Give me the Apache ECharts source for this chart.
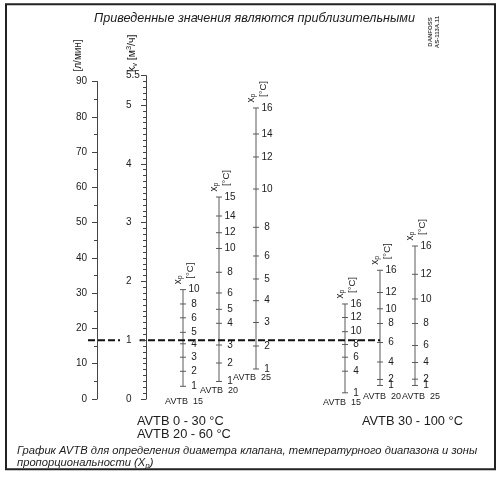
<!DOCTYPE html>
<html>
<head>
<meta charset="utf-8">
<script src="https://cdn.jsdelivr.net/npm/echarts@6/dist/echarts.min.js"></script>
<style>
  html, body { margin: 0; padding: 0; background: #fff; }
  #chart { width: 500px; height: 477px; }
</style>
</head>
<body>
<div id="chart"></div>
<script>
// Flow scales: l/min on the outer axis, kv [m3/h] on the inner one (1 m3/h = 16.67 l/min)
const flowTicks = [0, 10, 20, 30, 40, 50, 60, 70, 80, 90];
const kvLabels = [0, 1, 2, 3, 4, 5, 5.5];

// Xp scales: proportional band [°C] and the kv value at which each tick sits
// AVTB 0 - 30 °C / AVTB 20 - 60 °C
const xpLow15 = [1, 2, 3, 4, 5, 6, 8, 10];
const kvLow15 = [0.216, 0.471, 0.711, 0.939, 1.134, 1.381, 1.616, 1.86];
const xpLow20 = [1, 2, 3, 4, 5, 6, 8, 10, 12, 14, 15];
const kvLow20 = [0.298, 0.612, 0.918, 1.287, 1.525, 1.803, 2.155, 2.56, 2.828, 3.112, 3.435];
const xpLow25 = [1, 2, 3, 4, 5, 6, 8, 10, 12, 14, 16];
const kvLow25 = [0.51, 0.901, 1.301, 1.672, 2.041, 2.432, 2.92, 3.571, 4.116, 4.507, 4.949];
// AVTB 30 - 100 °C
const xpHigh15 = [1, 4, 6, 8, 10, 12, 16];
const kvHigh15 = [0.105, 0.473, 0.711, 0.927, 1.145, 1.386, 1.616];
const xpHigh20 = [1, 2, 4, 6, 8, 10, 12, 16];
const kvHigh20 = [0.23, 0.332, 0.629, 0.961, 1.284, 1.534, 1.811, 2.189];
const xpHigh25 = [1, 2, 4, 6, 8, 10, 12, 16];
const kvHigh25 = [0.23, 0.337, 0.621, 0.91, 1.284, 1.701, 2.121, 2.602];

// example reading (dashed line)
const readingKv = 1;

const FONT = '"Liberation Sans", Arial, Helvetica, sans-serif';
const INK = '#1c1c1c';
const AXIS = '#444';
const SCALE = '#5a5a5a';

// minor kv ticks every 0.1
const kvMinor = [];
for (let i = 1; i < 55; i++) { if (i % 10 !== 0) kvMinor.push(i / 10); }

// Xp scale layout: horizontal slot in the nomogram and the offset of the size label
const scales = [
  { name: 'AVTB  15', xp: xpLow15, kv: kvLow15, x: 95, dx: 1, dy: 15 },
  { name: 'AVTB  20', xp: xpLow20, kv: kvLow20, x: 131, dx: 0, dy: 9 },
  { name: 'AVTB  25', xp: xpLow25, kv: kvLow25, x: 168, dx: -4, dy: 9 },
  { name: 'AVTB  15', xp: xpHigh15, kv: kvHigh15, x: 257, dx: -3, dy: 10 },
  { name: 'AVTB  20', xp: xpHigh20, kv: kvHigh20, x: 292, dx: 2, dy: 11.5 },
  { name: 'AVTB  25', xp: xpHigh25, kv: kvHigh25, x: 327, dx: 6, dy: 11.5 }
];

function scaleSeries(s) {
  const last = s.kv.length - 1;
  return {
    type: 'custom',
    xAxisIndex: 1,
    yAxisIndex: 1,
    z: 3,
    silent: true,
    data: s.kv.map((k, i) => [s.x, k, s.xp[i]]),
    renderItem(params, api) {
      const i = params.dataIndex;
      const p = api.coord([api.value(0), api.value(1)]);
      const kids = [];
      if (i === 0) {
        const top = api.coord([s.x, s.kv[last]]);
        kids.push({ type: 'line', shape: { x1: p[0], y1: p[1], x2: top[0], y2: top[1] },
          style: { stroke: SCALE, lineWidth: 1 } });
        kids.push({ type: 'text', x: p[0] + s.dx, y: p[1] + s.dy,
          style: { text: s.name, fontSize: 9, fontFamily: FONT, fill: INK, align: 'center', verticalAlign: 'middle' } });
      }
      kids.push({ type: 'line', shape: { x1: p[0] - 3, y1: p[1], x2: p[0] + 3, y2: p[1] },
        style: { stroke: SCALE, lineWidth: 1 } });
      kids.push({ type: 'text', x: p[0] + 11, y: p[1],
        style: { text: String(api.value(2)), fontSize: 10, fontFamily: FONT, fill: INK, align: 'center', verticalAlign: 'middle' } });
      if (i === last) {
        kids.push({ type: 'text', x: p[0] - 5, y: p[1] - 5.5, rotation: Math.PI / 2,
          style: { text: '{a|x}{b|p}', align: 'left', verticalAlign: 'middle',
            rich: { a: { fontSize: 10, fontFamily: FONT, fill: INK },
                    b: { fontSize: 7, fontFamily: FONT, fill: INK, padding: [5, 0, 0, 0] } } } });
        kids.push({ type: 'text', x: p[0] + 7, y: p[1] - 11, rotation: Math.PI / 2,
          style: { text: '[°C]', fontSize: 9.5, fontFamily: FONT, fill: INK, align: 'left', verticalAlign: 'middle' } });
      }
      return { type: 'group', children: kids };
    }
  };
}

const chart = echarts.init(document.getElementById('chart'), null, { renderer: 'canvas' });

const plainText = { fontFamily: FONT, color: INK, fontWeight: 'normal' };

chart.setOption({
  animation: false,
  backgroundColor: '#fff',
  title: [
    { text: 'Приведенные значения являются приблизительными', left: 94, top: 10.5, padding: 0,
      textStyle: Object.assign({ fontSize: 12.6, fontStyle: 'italic', lineHeight: 15 }, plainText) },
    { text: 'AVTB 0 - 30 °C', left: 137, top: 414.5, padding: 0,
      textStyle: Object.assign({ fontSize: 12.8, lineHeight: 13 }, plainText) },
    { text: 'AVTB 20 - 60 °C', left: 137, top: 427.5, padding: 0,
      textStyle: Object.assign({ fontSize: 12.8, lineHeight: 13 }, plainText) },
    { text: 'AVTB 30 - 100 °C', left: 362, top: 414.5, padding: 0,
      textStyle: Object.assign({ fontSize: 12.8, lineHeight: 13 }, plainText) },
    { text: 'График AVTB для определения диаметра клапана, температурного диапазона и зоны\nпропорциональности (X{s|p})',
      left: 17, top: 445, padding: 0,
      textStyle: Object.assign({ fontSize: 11.2, fontStyle: 'italic', lineHeight: 12,
        rich: { s: { fontSize: 8, fontStyle: 'italic', fontFamily: FONT, color: INK, padding: [5, 0, 0, 0] } } }, plainText) }
  ],
  graphic: [
    { type: 'rect', shape: { x: 6, y: 4.3, width: 489, height: 465 },
      style: { fill: 'none', stroke: '#222', lineWidth: 2 }, silent: true },
    { type: 'text', x: 434, y: 32, rotation: Math.PI / 2,
      style: { text: 'DANFOSS\nAS-113A.11', fontSize: 6, fontWeight: 'bold', fontFamily: FONT, fill: '#444',
        align: 'center', verticalAlign: 'middle', lineHeight: 6.5 }, silent: true }
  ],
  grid: [
    { left: 97, top: 81.5, bottom: 78, width: 10, outerBoundsMode: 'none' },
    { left: 88, right: 20, top: 75.6, bottom: 78, outerBoundsMode: 'none' }
  ],
  xAxis: [
    { gridIndex: 0, type: 'value', show: false, min: 0, max: 1 },
    { gridIndex: 1, type: 'value', show: false, min: 0, max: 392 }
  ],
  yAxis: [
    {
      gridIndex: 0, type: 'value', position: 'left', min: 0, max: 90, interval: 10,
      axisLine: { show: true, onZero: false, lineStyle: { color: AXIS, width: 1 } },
      axisTick: { show: true, length: 5, customValues: flowTicks, lineStyle: { color: AXIS } },
      minorTick: { show: true, splitNumber: 2, length: 3, lineStyle: { color: AXIS } },
      splitLine: { show: false }, minorSplitLine: { show: false },
      axisLabel: { customValues: flowTicks, margin: 10, fontSize: 10, fontFamily: FONT, color: INK },
      name: '[л/мин]', nameLocation: 'end', nameRotate: 90, nameGap: 10, nameMoveOverlap: false,
      nameTextStyle: { fontSize: 10, fontFamily: FONT, color: INK, align: 'left', verticalAlign: 'bottom',
        padding: [0, 0, 14, 0] }
    },
    {
      gridIndex: 1, type: 'value', position: 'left', offset: -58, min: 0, max: 5.5, z: 5,
      axisLine: { show: true, onZero: false, lineStyle: { color: AXIS, width: 1 } },
      axisTick: { show: true, length: 5, customValues: kvLabels, lineStyle: { color: AXIS } },
      splitLine: { show: false },
      axisLabel: {
        customValues: kvLabels, margin: 26, align: 'left',
        formatter: v => (v === readingKv ? '{gap|' + v + '}' : '{n|' + v + '}'),
        rich: {
          n: { fontSize: 10, fontFamily: FONT, color: INK, padding: [0, 0, 0, 6] },
          gap: { fontSize: 10, fontFamily: FONT, color: INK, padding: [0, 8, 0, 6], backgroundColor: '#fff' }
        }
      },
      name: '{k|k}{s|v}{k| [м}{u|3}{k|/ч]}', nameLocation: 'end', nameRotate: 90, nameGap: 3.5, nameMoveOverlap: false,
      nameTextStyle: {
        align: 'left', verticalAlign: 'bottom', padding: [0, 0, 7, 0],
        rich: {
          k: { fontSize: 10.5, fontFamily: FONT, color: INK },
          s: { fontSize: 7.5, fontFamily: FONT, color: INK, padding: [5, 0, 0, 0] },
          u: { fontSize: 7.5, fontFamily: FONT, color: INK, padding: [0, 0, 6, 0] }
        }
      }
    },
    {
      gridIndex: 1, type: 'value', position: 'left', offset: -58, min: 0, max: 5.5, z: 5,
      axisLine: { show: false, onZero: false },
      axisTick: { show: true, length: 3, customValues: kvMinor, lineStyle: { color: AXIS } },
      axisLabel: { show: false },
      splitLine: { show: false }
    }
  ],
  series: scales.map(scaleSeries).concat([
    {
      type: 'line', xAxisIndex: 1, yAxisIndex: 1, z: 4, silent: true,
      data: [[0, readingKv], [scales[4].x, readingKv]],
      symbol: 'none',
      lineStyle: { type: [7, 3], width: 2, color: '#111' }
    }
  ])
});
</script>
</body>
</html>
